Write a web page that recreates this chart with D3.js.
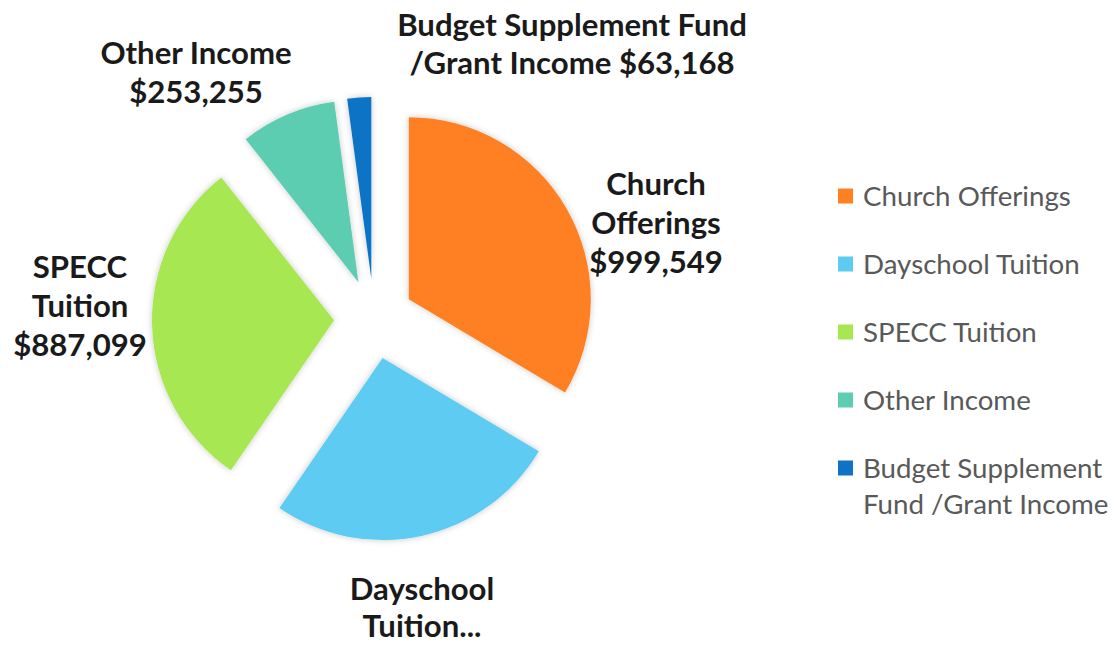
<!DOCTYPE html>
<html>
<head>
<meta charset="utf-8">
<script src="https://cdn.jsdelivr.net/npm/d3@7"></script>
<style>
  body { margin: 0; background: #fff; }
  svg { display: block; }
</style>
</head>
<body>
<svg id="PieChart"></svg>
<script>
// slice data, clockwise from 12 o'clock
var categories = ["Church Offerings", "Dayschool Tuition", "SPECC Tuition", "Other Income", "Budget Supplement Fund /Grant Income"]
var values = [999549, 775000, 887099, 253255, 63168]
var colors = ["#FF8021", "#5DCBF2", "#A7E751", "#5DCDB1", "#0F73C5"]

// data label lines as shown on the chart
var labelLines = [
    ["Church", "Offerings", "$999,549"],
    ["Dayschool", "Tuition..."],
    ["SPECC", "Tuition", "$887,099"],
    ["Other Income", "$253,255"],
    ["Budget Supplement Fund", "/Grant Income $63,168"]
]
// legend text, wrapped the way it is in the picture
var legendLines = [
    ["Church Offerings"],
    ["Dayschool Tuition"],
    ["SPECC Tuition"],
    ["Other Income"],
    ["Budget Supplement", "Fund /Grant Income"]
]

var dimensions = {
    width: 1119,
    height: 646,
    cx: 374,
    cy: 319,
    radius: 182,
    explode: 40
}

// where each label block's first baseline sits, and its line step
var labelLayout = [
    { x: 656, y: 195, step: 39 },
    { x: 422, y: 600, step: 37 },
    { x: 80,  y: 278, step: 39 },
    { x: 196, y: 64,  step: 39 },
    { x: 572, y: 36,  step: 38 }
]

var svg = d3.select("#PieChart")
            .attr("width", dimensions.width)
            .attr("height", dimensions.height)

var defs = svg.append("defs")
var shadow = defs.append("filter")
                 .attr("id", "glow")
                 .attr("x", "-20%").attr("y", "-20%")
                 .attr("width", "140%").attr("height", "140%")
shadow.append("feDropShadow")
      .attr("dx", 0).attr("dy", 0)
      .attr("stdDeviation", 3)
      .attr("flood-color", "#000")
      .attr("flood-opacity", 0.22)

var data = categories.map((c, i) => ({ category: c, value: values[i], color: colors[i] }))

var pie = d3.pie()
            .sort(null)
            .value(d => d.value)

var arcGen = d3.arc()
               .innerRadius(0)
               .outerRadius(dimensions.radius)

var arcs = pie(data)

var slices = svg.append("g")
                .attr("transform", `translate(${dimensions.cx},${dimensions.cy})`)
                .selectAll("path")
                .data(arcs)
                .enter()
                .append("path")
                .attr("d", arcGen)
                .attr("fill", d => d.data.color)
                .attr("filter", "url(#glow)")
                .attr("transform", d => {
                    var mid = (d.startAngle + d.endAngle) / 2
                    var dx = Math.sin(mid) * dimensions.explode
                    var dy = -Math.cos(mid) * dimensions.explode
                    return `translate(${dx},${dy})`
                })

// font size that makes a sample string a given width
function fitSize(sample, family, weight, target) {
    var t = svg.append("text")
               .style("font-family", family)
               .style("font-weight", weight)
               .style("font-size", "100px")
               .text(sample)
    var w = t.node().getComputedTextLength()
    t.remove()
    return 100 * target / w
}

var labelFont = "Lato, 'Open Sans', sans-serif"
var labelSize = fitSize("Budget Supplement Fund", labelFont, "bold", 350)
var legendSize = fitSize("Church Offerings", labelFont, "normal", 208)

var labels = svg.append("g")
labelLines.forEach((lines, i) => {
    var pos = labelLayout[i]
    var t = labels.append("text")
                  .attr("x", pos.x)
                  .attr("y", pos.y)
                  .attr("text-anchor", "middle")
                  .attr("fill", "#1a1a1a")
                  .style("font-family", labelFont)
                  .style("font-weight", "bold")
                  .style("font-size", labelSize + "px")
    lines.forEach((line, j) => {
        t.append("tspan")
         .attr("x", pos.x)
         .attr("y", pos.y + j * pos.step)
         .text(line)
    })
})

var legendY = d3.scalePoint()
                .domain(categories)
                .range([196, 468])

var legend = svg.append("g")
legendLines.forEach((lines, i) => {
    var y = legendY(categories[i])
    legend.append("rect")
          .attr("x", 838)
          .attr("y", y - 7.5)
          .attr("width", 15)
          .attr("height", 15)
          .attr("fill", colors[i])
    var t = legend.append("text")
                  .attr("fill", "#595959")
                  .style("font-family", labelFont)
                  .style("font-size", legendSize + "px")
    lines.forEach((line, j) => {
        t.append("tspan")
         .attr("x", 863)
         .attr("y", y + j * 36)
         .attr("dy", "0.35em")
         .text(line)
    })
})
</script>
</body>
</html>
